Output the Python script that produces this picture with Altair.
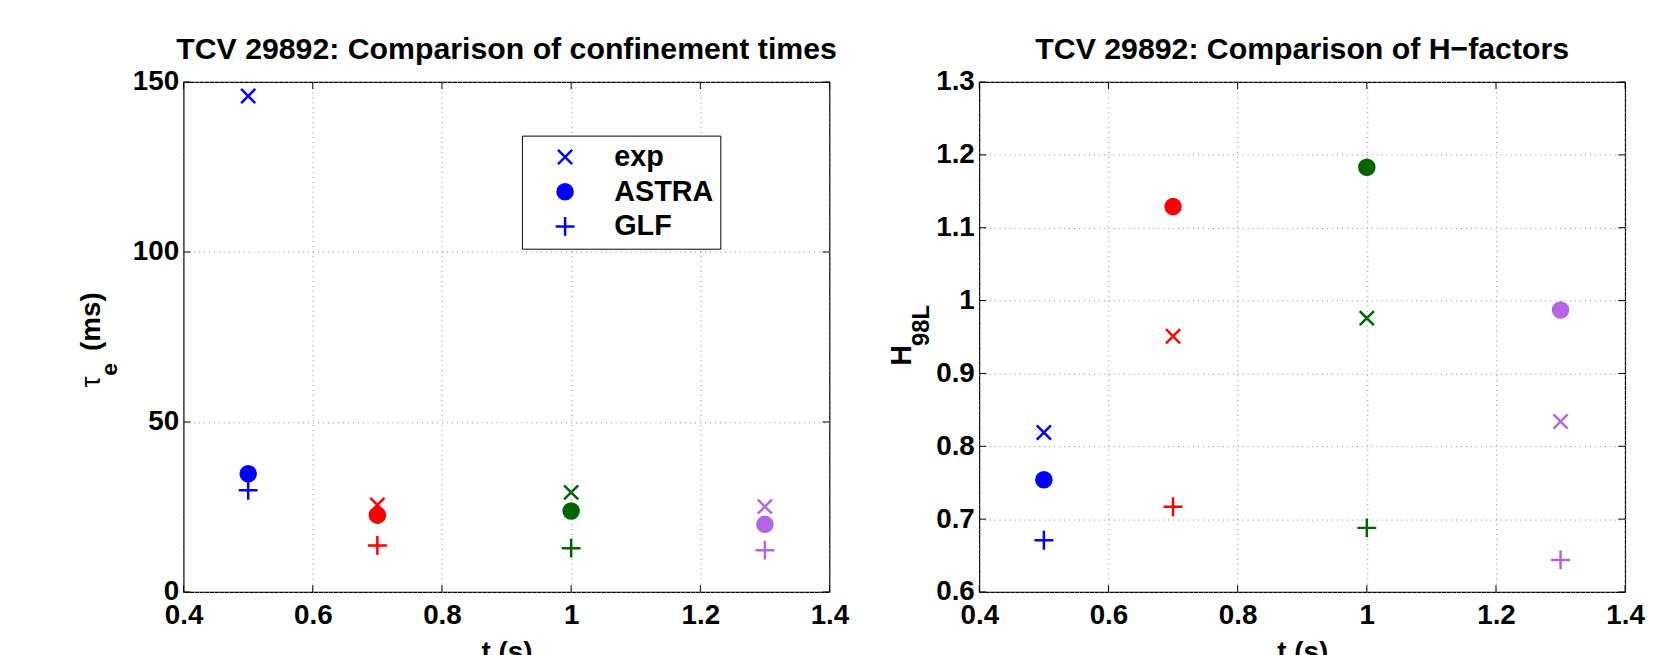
import altair as alt
import pandas as pd

# ---------------- data ----------------
times = [0.5, 0.7, 1.0, 1.3]
time_keys = ["0.5", "0.7", "1.0", "1.3"]
time_colors = ["#0000FF", "#FF0000", "#006400", "#B366E6"]
series_names = ["exp", "ASTRA", "GLF"]

tau_exp = [145.9, 25.6, 29.3, 25.1]
tau_astra = [34.8, 22.6, 23.8, 19.9]
tau_glf = [29.9, 13.7, 12.9, 12.3]

h_exp = [0.819, 0.951, 0.976, 0.834]
h_astra = [0.754, 1.129, 1.183, 0.987]
h_glf = [0.671, 0.717, 0.688, 0.644]

x_ticks = [0.4, 0.6, 0.8, 1.0, 1.2, 1.4]
tau_ticks = [0, 50, 100, 150]
h_ticks = [0.6, 0.7, 0.8, 0.9, 1.0, 1.1, 1.2, 1.3]

title_left = "TCV 29892: Comparison of confinement times"
title_right = "TCV 29892: Comparison of H\u2212factors"

# ---------------- style ----------------
FONT = "Liberation Sans"
H = 514
SYM = 361
X_PATH = "M-0.75,-0.75L0.75,0.75M-0.75,0.75L0.75,-0.75"
O_PATH = "M0.8,0A0.8,0.8 0 1,1 -0.8,0A0.8,0.8 0 1,1 0.8,0Z"
P_PATH = "M-1,0L1,0M0,-1L0,1"
TICK = 7


def frame(exp, astra, glf):
    rows = []
    for name, vals in zip(series_names, [exp, astra, glf]):
        for t, k, v in zip(times, time_keys, vals):
            rows.append({"t": t, "tk": k, "series": name, "val": v})
    return pd.DataFrame(rows)


def rot_text(txt, x, y, size, weight):
    return alt.Chart(pd.DataFrame({"s": [txt]})).mark_text(
        angle=270, align="left", baseline="alphabetic", font=FONT,
        fontSize=size, fontWeight=weight, color="black"
    ).encode(text="s:N", x=alt.value(x), y=alt.value(y))


def panel(df, W, yticks, ydomain, yformat, title, ytitle, legend):
    xscale = alt.Scale(domain=[0.4, 1.4], nice=False, zero=False)
    yscale = alt.Scale(domain=ydomain, nice=False, zero=False)
    common = dict(grid=True, ticks=False, domain=False, labelFont=FONT,
                  labelFontSize=28, labelFontWeight="bold", labelColor="black",
                  gridColor="#8a8a8a", gridDash=[1, 4], gridWidth=1)
    xaxis = alt.Axis(values=x_ticks, format="~g", title="t (s)", titleFont=FONT,
                     titleFontSize=28, titleFontWeight="bold", titleColor="black",
                     labelPadding=10, titlePadding=9, labelFlush=False, **common)
    yaxis = alt.Axis(values=yticks, format=yformat, title=None, labelPadding=5,
                     **common)
    color_scale = alt.Scale(domain=time_keys, range=time_colors)
    shape_scale = alt.Scale(domain=series_names, range=[X_PATH, O_PATH, P_PATH])
    if legend:
        shape_legend = alt.Legend(
            title=None, orient="none", legendX=341, legendY=54,
            direction="vertical", strokeColor="black", fillColor="white",
            padding=7, cornerRadius=0, labelFont=FONT, labelFontSize=29,
            labelFontWeight="bold", labelColor="black", labelOffset=35,
            symbolOffset=22, rowPadding=5, symbolSize=SYM,
            symbolStrokeWidth=2.5, symbolFillColor="#0000FF",
            symbolStrokeColor="#0000FF", symbolOpacity=1,
            labelExpr="datum.label + '\u00a0\u00a0'",
        )
    else:
        shape_legend = None

    points = alt.Chart(df).mark_point(filled=True, strokeWidth=2.5, opacity=1,
                                      size=SYM).encode(
        x=alt.X("t:Q", scale=xscale, axis=xaxis),
        y=alt.Y("val:Q", scale=yscale, axis=yaxis),
        fill=alt.Fill("tk:N", scale=color_scale, legend=None),
        stroke=alt.Stroke("tk:N", scale=color_scale, legend=None),
        shape=alt.Shape("series:N", scale=shape_scale, legend=shape_legend),
    )

    xt = pd.DataFrame({"t": x_ticks})
    yt = pd.DataFrame({"val": yticks})
    rule = dict(color="black", strokeWidth=1)
    ticks = [
        alt.Chart(xt).mark_rule(**rule).encode(
            x=alt.X("t:Q", scale=xscale, axis=xaxis), y=alt.value(H), y2=alt.value(H - TICK)),
        alt.Chart(xt).mark_rule(**rule).encode(
            x=alt.X("t:Q", scale=xscale, axis=xaxis), y=alt.value(0), y2=alt.value(TICK)),
        alt.Chart(yt).mark_rule(**rule).encode(
            y=alt.Y("val:Q", scale=yscale, axis=yaxis), x=alt.value(0), x2=alt.value(TICK)),
        alt.Chart(yt).mark_rule(**rule).encode(
            y=alt.Y("val:Q", scale=yscale, axis=yaxis), x=alt.value(W), x2=alt.value(W - TICK)),
    ]
    texts = [rot_text(*p) for p in ytitle]
    return alt.layer(points, *ticks, *texts).properties(
        width=W, height=H,
        title=alt.TitleParams(text=title, font=FONT, fontSize=30.5, fontWeight="bold",
                              color="black", offset=3, anchor="middle",
                              frame="group"),
    )


left = panel(
    frame(tau_exp, tau_astra, tau_glf), 651, tau_ticks, [0, 150], "d", title_left,
    [("\u03c4", -84, 308, 28, "normal"), ("e", -67, 296, 23, "bold"),
     ("(ms)", -84, 271, 28, "bold")],
    True,
)
right = panel(
    frame(h_exp, h_astra, h_glf), 651, h_ticks, [0.6, 1.3], "~g", title_right,
    [("H", -69, 286, 29, "bold"), ("98L", -51, 266, 24, "bold")],
    False,
)

chart = alt.hconcat(left, right, spacing=37).properties(
    padding={"left": 70, "top": 23, "right": 0, "bottom": 0},
    background="white",
).configure_view(stroke="black", strokeWidth=1.2)

chart.save("out.html", embed_options={"renderer": "svg", "actions": False})
